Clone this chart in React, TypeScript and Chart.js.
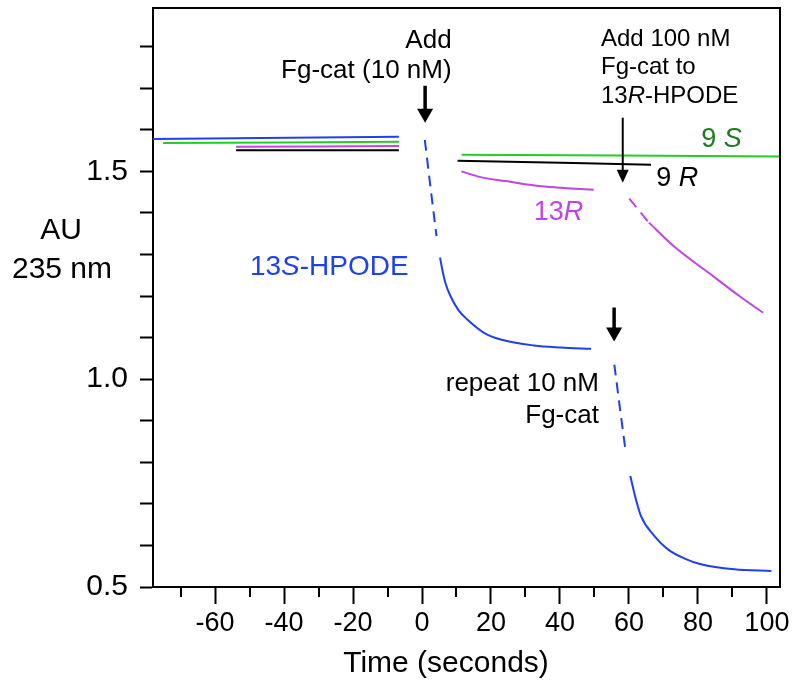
import React, { useEffect, useRef } from 'react';
import { Chart, registerables } from 'chart.js';
Chart.register(...registerables);

const FONT = '"Liberation Sans", Arial, Helvetica, sans-serif';

// axis ranges and ticks
const X_MIN = -78;
const X_MAX = 103.8;
const Y_MIN = 0.5;
const Y_MAX = 1.893;
const X_TICK_LABELS = [-60, -40, -20, 0, 20, 40, 60, 80, 100];
const Y_TICK_LABELS = [0.5, 1.0, 1.5];

// 13S-HPODE (blue)
const blueBaseX = [-78, -6.7];
const blueBaseY = [1.578, 1.583];
const blueDrop1X = [0.81, 2.47, 4.21];
const blueDrop1Y = [1.576, 1.461, 1.344];
const blueDecay1X = [5.23, 5.87, 6.83, 8.28, 10.61, 13.14, 17.97, 22.82, 32.5, 40.3, 49.0];
const blueDecay1Y = [1.2925, 1.2637, 1.23, 1.1995, 1.1656, 1.1435, 1.1115, 1.0954, 1.081, 1.0762, 1.0731];
const blueDrop2X = [55.76, 57.4, 59.1];
const blueDrop2Y = [1.0353, 0.9296, 0.823];
const blueDecay2X = [60.4, 61.8, 63.5, 67.4, 71.3, 76.0, 80.9, 90.55, 101.3];
const blueDecay2Y = [0.7668, 0.718, 0.6707, 0.6226, 0.5906, 0.569, 0.5546, 0.5425, 0.5385];

// 9S (green)
const greenBaseX = [-75.06, -6.7];
const greenBaseY = [1.568, 1.5714];
const greenAfterX = [11.5, 103.8];
const greenAfterY = [1.5401, 1.536];

// 13R (magenta)
const magBaseX = [-53.9, -6.7];
const magBaseY = [1.559, 1.5611];
const magAfter1X = [11.4, 17.0, 24.8, 34.5, 42.0, 49.8];
const magAfter1Y = [1.5, 1.4861, 1.476, 1.464, 1.4596, 1.456];
const magDropX = [60.1, 65.8];
const magDropY = [1.4344, 1.3767];
const magAfter2X = [65.8, 73.1, 83.0, 92.6, 98.9];
const magAfter2Y = [1.3767, 1.319, 1.2565, 1.1964, 1.1599];

// 9R (black)
const blackBaseX = [-53.9, -6.7];
const blackBaseY = [1.5505, 1.5505];
const blackAfterX = [10.3, 66.4];
const blackAfterY = [1.5257, 1.516];

const BLUE = '#1f3ff2';
const GREEN = '#25cc25';
const GREEN_TEXT = '#1f7a1f';
const MAGENTA = '#c044e6';
const BLACK = '#000000';

type Part = [string, boolean];
interface Note { x: number; y: number; align: 'left' | 'right'; size: number; color: string; parts: Part[] }

const NOTES: Note[] = [
  { x: 8.58, y: 1.7966, align: 'right', size: 26, color: BLACK, parts: [['Add', false]] },
  { x: 8.58, y: 1.7245, align: 'right', size: 26, color: BLACK, parts: [['Fg-cat (10 nM)', false]] },
  { x: 51.9, y: 1.8022, align: 'left', size: 24, color: BLACK, parts: [['Add 100 nM', false]] },
  { x: 51.9, y: 1.7349, align: 'left', size: 24, color: BLACK, parts: [['Fg-cat to', false]] },
  { x: 51.9, y: 1.6644, align: 'left', size: 24, color: BLACK, parts: [['13', false], ['R', true], ['-HPODE', false]] },
  { x: 80.96, y: 1.5586, align: 'left', size: 27, color: GREEN_TEXT, parts: [['9 ', false], ['S', true]] },
  { x: 67.9, y: 1.4656, align: 'left', size: 27, color: BLACK, parts: [['9 ', false], ['R', true]] },
  { x: 32.4, y: 1.3822, align: 'left', size: 27, color: MAGENTA, parts: [['13', false], ['R', true]] },
  { x: -49.9, y: 1.2517, align: 'left', size: 28, color: BLUE, parts: [['13', false], ['S', true], ['-HPODE', false]] },
  { x: 51.3, y: 0.9712, align: 'right', size: 26, color: BLACK, parts: [['repeat 10 nM', false]] },
  { x: 51.3, y: 0.8935, align: 'right', size: 26, color: BLACK, parts: [['Fg-cat', false]] },
];

interface Arrow { x: number; top: number; tip: number; shaft: number; head: number; headLen: number }
const ARROWS: Arrow[] = [
  { x: 0.9, top: 1.706, tip: 1.617, shaft: 3.5, head: 16, headLen: 14 },
  { x: 58.2, top: 1.6291, tip: 1.4728, shaft: 2, head: 12, headLen: 13 },
  { x: 55.7, top: 1.1724, tip: 1.0906, shaft: 3.5, head: 16, headLen: 14 },
];

const pts = (xs: number[], ys: number[]) => xs.map((x, i) => ({ x, y: ys[i] }));

function ds(xs: number[], ys: number[], color: string, dashed = false) {
  return {
    data: pts(xs, ys),
    borderColor: color,
    backgroundColor: color,
    borderWidth: 2,
    borderDash: dashed ? [11, 7] : [],
    pointRadius: 0,
    showLine: true,
    fill: false,
    cubicInterpolationMode: 'monotone' as const,
  };
}

function drawParts(ctx: CanvasRenderingContext2D, parts: Part[], x: number, y: number, align: string, size: number, color: string) {
  const fontOf = (it: boolean) => `${it ? 'italic ' : ''}${size}px ${FONT}`;
  let total = 0;
  for (const [t, it] of parts) { ctx.font = fontOf(it); total += ctx.measureText(t).width; }
  let cx = align === 'right' ? x - total : align === 'center' ? x - total / 2 : x;
  ctx.fillStyle = color;
  ctx.textAlign = 'left';
  ctx.textBaseline = 'alphabetic';
  for (const [t, it] of parts) { ctx.font = fontOf(it); ctx.fillText(t, cx, y); cx += ctx.measureText(t).width; }
}

const overlay = {
  id: 'overlay',
  afterDraw(chart: any) {
    const { ctx, chartArea: a, scales } = chart;
    const xs = scales.x, ys = scales.y;
    ctx.save();
    // frame top & right
    ctx.strokeStyle = BLACK;
    ctx.lineWidth = 2;
    ctx.beginPath();
    ctx.moveTo(a.left - 1, a.top);
    ctx.lineTo(a.right, a.top);
    ctx.lineTo(a.right, a.bottom + 1);
    ctx.stroke();
    // minor x ticks
    ctx.lineWidth = 2;
    for (let v = -70; v <= 100; v += 10) {
      if (v % 20 === 0) continue;
      const px = Math.round(xs.getPixelForValue(v));
      ctx.beginPath();
      ctx.moveTo(px, a.bottom);
      ctx.lineTo(px, a.bottom + 10);
      ctx.stroke();
    }
    // arrows
    ctx.fillStyle = BLACK;
    for (const ar of ARROWS) {
      const px = xs.getPixelForValue(ar.x);
      const top = ys.getPixelForValue(ar.top);
      const tip = ys.getPixelForValue(ar.tip);
      ctx.lineWidth = ar.shaft;
      ctx.beginPath();
      ctx.moveTo(px, top);
      ctx.lineTo(px, tip - ar.headLen + 2);
      ctx.stroke();
      ctx.beginPath();
      ctx.moveTo(px - ar.head / 2, tip - ar.headLen);
      ctx.lineTo(px + ar.head / 2, tip - ar.headLen);
      ctx.lineTo(px, tip);
      ctx.closePath();
      ctx.fill();
    }
    // notes
    for (const n of NOTES) {
      drawParts(ctx, n.parts, xs.getPixelForValue(n.x), ys.getPixelForValue(n.y), n.align, n.size, n.color);
    }
    // axis titles
    drawParts(ctx, [['AU', false]], 61, 239, 'center', 30, BLACK);
    drawParts(ctx, [['235 nm', false]], 62, 278, 'center', 30, BLACK);
    drawParts(ctx, [['Time (seconds)', false]], 446, 672, 'center', 30, BLACK);
    ctx.restore();
  },
};

export default function App() {
  const ref = useRef<HTMLCanvasElement>(null);
  useEffect(() => {
    if (!ref.current) return;
    const chart = new Chart(ref.current, {
      type: 'scatter',
      data: {
        datasets: [
          ds(greenBaseX, greenBaseY, GREEN),
          ds(greenAfterX, greenAfterY, GREEN),
          ds(magBaseX, magBaseY, MAGENTA),
          ds(magAfter1X, magAfter1Y, MAGENTA),
          ds(magDropX, magDropY, MAGENTA, true),
          ds(magAfter2X, magAfter2Y, MAGENTA),
          ds(blackBaseX, blackBaseY, BLACK),
          ds(blackAfterX, blackAfterY, BLACK),
          ds(blueBaseX, blueBaseY, BLUE),
          ds(blueDrop1X, blueDrop1Y, BLUE, true),
          ds(blueDecay1X, blueDecay1Y, BLUE),
          ds(blueDrop2X, blueDrop2Y, BLUE, true),
          ds(blueDecay2X, blueDecay2Y, BLUE),
        ] as any,
      },
      options: {
        animation: false,
        responsive: false,
        devicePixelRatio: 1,
        layout: { padding: { left: 0, right: 20, top: 8, bottom: 0 } },
        plugins: { legend: { display: false }, tooltip: { enabled: false } },
        scales: {
          x: {
            type: 'linear',
            min: X_MIN,
            max: X_MAX,
            afterFit: (s: any) => { s.height = 102; s.paddingLeft = 0; s.paddingRight = 0; },
            border: { display: true, color: BLACK, width: 2 },
            grid: {
              display: true,
              drawOnChartArea: false,
              drawTicks: true,
              tickLength: 17,
              tickWidth: 2,
              tickColor: (c: any) => (X_TICK_LABELS.includes(Math.round(c.tick?.value ?? 1)) ? BLACK : 'rgba(0,0,0,0)'),
            },
            ticks: {
              stepSize: 10,
              includeBounds: false,
              autoSkip: false,
              maxRotation: 0,
              padding: 3,
              color: BLACK,
              font: { family: FONT, size: 27 },
              callback: (v: any) => (X_TICK_LABELS.includes(Math.round(Number(v))) ? String(Math.round(Number(v))) : ''),
            },
          },
          y: {
            type: 'linear',
            min: Y_MIN,
            max: Y_MAX,
            afterFit: (s: any) => { s.width = 153; s.paddingTop = 0; s.paddingBottom = 0; },
            border: { display: true, color: BLACK, width: 2 },
            grid: {
              display: true,
              drawOnChartArea: false,
              drawTicks: true,
              tickLength: 13,
              tickWidth: 2,
              tickColor: BLACK,
            },
            ticks: {
              stepSize: 0.1,
              includeBounds: false,
              autoSkip: false,
              padding: 12,
              color: BLACK,
              font: { family: FONT, size: 30 },
              callback: (v: any) => {
                const n = Math.round(Number(v) * 10) / 10;
                return Y_TICK_LABELS.some((t) => Math.abs(t - n) < 1e-6) ? n.toFixed(1) : '';
              },
            },
          },
        },
      },
      plugins: [overlay],
    });
    return () => chart.destroy();
  }, []);
  return (
    <div style={{ position: 'fixed', left: 0, top: 0, width: 800, height: 689, background: '#fff' }}>
      <canvas ref={ref} width={800} height={689} style={{ width: 800, height: 689, display: 'block' }} />
    </div>
  );
}
